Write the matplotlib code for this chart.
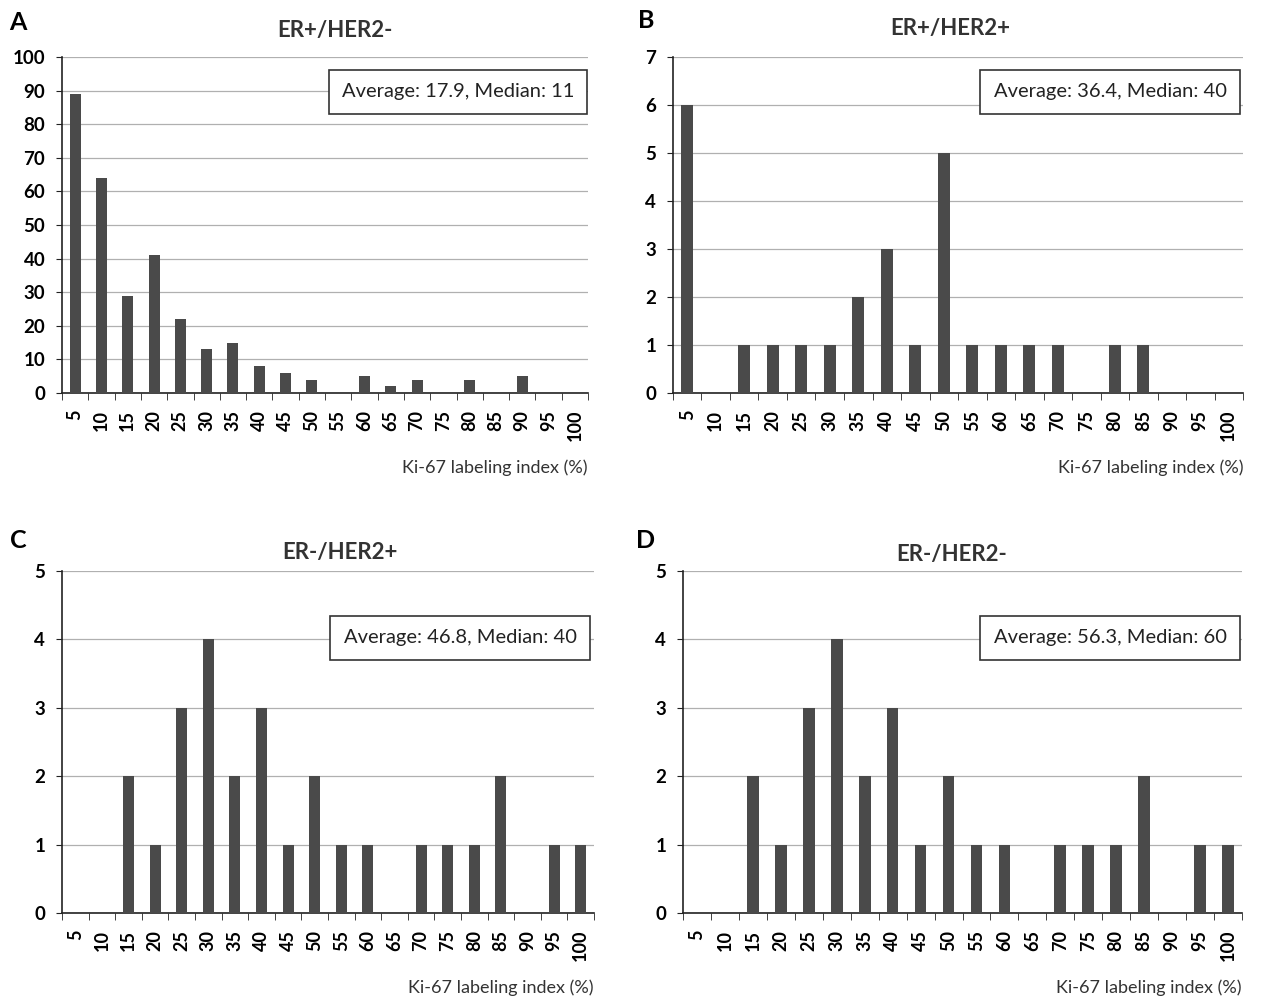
import matplotlib
matplotlib.use("Agg")
import matplotlib.pyplot as plt
from matplotlib.ticker import MultipleLocator, FixedLocator

plt.rcParams['font.family'] = ['Lato', 'DejaVu Sans']

# ---- data ----
ki67_bins = [str(v) for v in range(5, 105, 5)]

er_pos_her2_neg = [89, 64, 29, 41, 22, 13, 15, 8, 6, 4, 0, 5, 2, 4, 0, 4, 0, 5, 0, 0]
er_pos_her2_pos = [6, 0, 1, 1, 1, 1, 2, 3, 1, 5, 1, 1, 1, 1, 0, 1, 1, 0, 0, 0]
er_neg_her2_pos = [0, 0, 2, 1, 3, 4, 2, 3, 1, 2, 1, 1, 0, 1, 1, 1, 2, 0, 1, 1]
er_neg_her2_neg = [0, 0, 2, 1, 3, 4, 2, 3, 1, 2, 1, 1, 0, 1, 1, 1, 2, 0, 1, 1]

panel_letters = ['A', 'B', 'C', 'D']
panel_titles = ['ER+/HER2-', 'ER+/HER2+', 'ER-/HER2+', 'ER-/HER2-']
panel_stats = ['Average: 17.9, Median: 11', 'Average: 36.4, Median: 40',
               'Average: 46.8, Median: 40', 'Average: 56.3, Median: 60']
y_max = [100, 7, 5, 5]
y_step = [10, 1, 1, 1]

# ---- layout (pixels of the 1264x999 canvas) ----
W, H = 1264, 999
axes_px = [(62, 588, 57, 393), (673, 1243, 57, 393),
           (62, 594, 571, 913), (683, 1242, 571, 913)]
title_px = [(335, 30), (950, 28), (340, 553), (952, 555)]
letter_px = [(18, 22), (646, 20), (18, 540), (646, 540)]
box_px = [(458, 92), (1110, 92), (460, 638), (1110, 638)]
xlabel_y = [468, 468, 988, 988]

fig = plt.figure(figsize=(W / 100, H / 100), dpi=100)

series = [er_pos_her2_neg, er_pos_her2_pos, er_neg_her2_pos, er_neg_her2_neg]
pos = list(range(len(ki67_bins)))

for i, vals in enumerate(series):
    x0, x1, y0, y1 = axes_px[i]
    ax = fig.add_axes([x0 / W, 1 - y1 / H, (x1 - x0) / W, (y1 - y0) / H])
    ax.bar(pos, vals, width=0.42, color='#4a4a4a', zorder=3)
    ax.set_xlim(-0.5, len(ki67_bins) - 0.5)
    ax.set_ylim(0, y_max[i])
    ax.yaxis.set_major_locator(MultipleLocator(y_step[i]))
    ax.grid(axis='y', color='#b0b0b0', lw=0.9, zorder=0)

    for s in ['top', 'right']:
        ax.spines[s].set_visible(False)
    for s in ['left', 'bottom']:
        ax.spines[s].set_color('#222222')
        ax.spines[s].set_linewidth(1.2)

    ax.set_xticks(pos)
    ax.set_xticklabels(ki67_bins, rotation=90, fontweight='bold', fontsize=13)
    ax.xaxis.set_minor_locator(FixedLocator([p - 0.5 for p in pos] + [len(pos) - 0.5]))
    ax.tick_params(axis='x', which='major', length=0, pad=12)
    ax.tick_params(axis='x', which='minor', length=5, direction='out', color='#222222')
    ax.tick_params(axis='y', length=4, direction='out', color='#222222', pad=8,
                   labelsize=13.5)
    for lab in ax.get_yticklabels():
        lab.set_fontweight('bold')

    fig.text(x1 / W, 1 - xlabel_y[i] / H, 'Ki-67 labeling index (%)', ha='right',
             va='center', fontsize=13, color='#333333')

    tx, ty = title_px[i]
    fig.text(tx / W, 1 - ty / H, panel_titles[i], ha='center', va='center',
             fontsize=16, fontweight='bold', color='#333333')
    lx, ly = letter_px[i]
    fig.text(lx / W, 1 - ly / H, panel_letters[i], ha='center', va='center',
             fontsize=18, fontweight='bold')
    bx, by = box_px[i]
    fig.text(bx / W, 1 - by / H, panel_stats[i], ha='center', va='center',
             fontsize=14.5, color='#222222',
             bbox=dict(boxstyle='square,pad=0.65', fc='white', ec='#333333', lw=1.2))

fig.savefig('out.png', dpi=100)
